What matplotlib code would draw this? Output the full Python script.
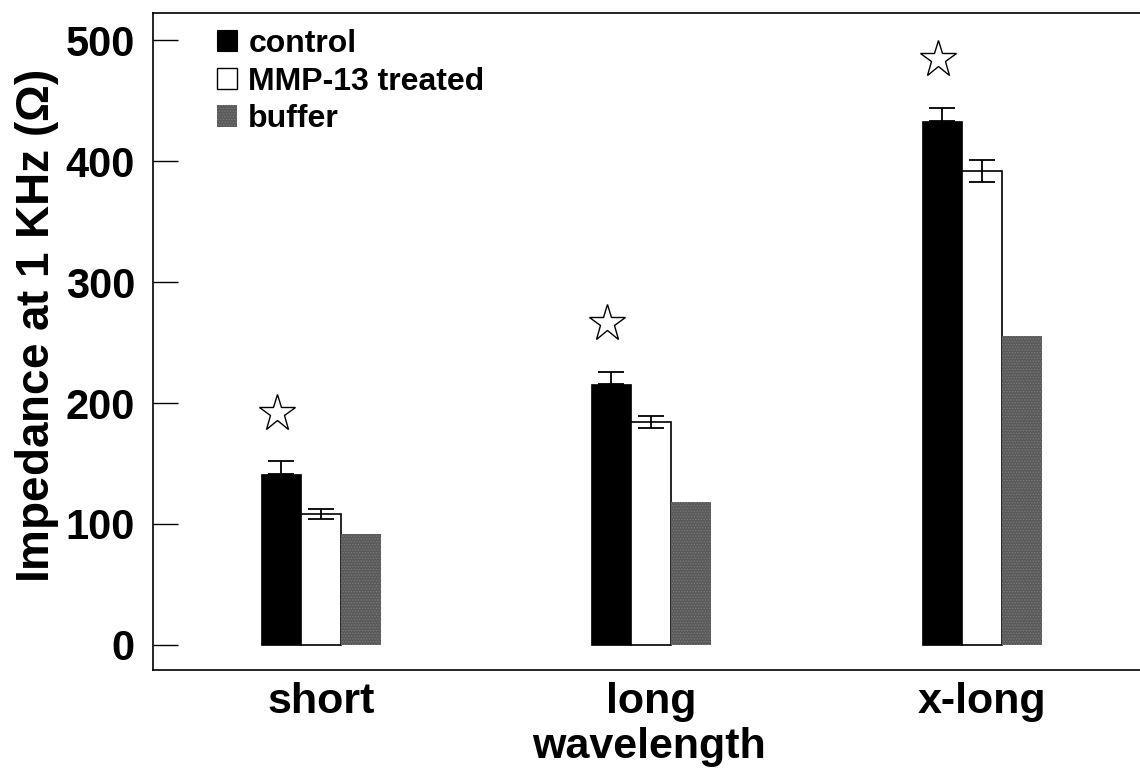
import matplotlib
matplotlib.use("Agg")
import matplotlib.pyplot as plt
from matplotlib.patches import Patch
import numpy as np

# Impedance at 1 kHz for three wavelength groups
categories = ["short", "long", "x-long"]
control = [141, 216, 433]
control_err = [11, 10, 11]
mmp13 = [108, 184, 392]
mmp13_err = [4, 5, 9]
buffer_vals = [92, 118, 255]
series_labels = ["control", "MMP-13 treated", "buffer"]
y_ticks = [0, 100, 200, 300, 400, 500]

plt.rcParams["font.family"] = ["Liberation Sans", "DejaVu Sans"]
plt.rcParams["font.weight"] = "bold"
plt.rcParams["hatch.linewidth"] = 0.6
plt.rcParams["mathtext.fontset"] = "custom"
plt.rcParams["mathtext.rm"] = "Liberation Sans"

fig = plt.figure(figsize=(11.4, 7.7), dpi=100)
ax = fig.add_axes([0.1342, 0.1299, 0.870, 0.853])

x = np.arange(len(categories))
w = 0.121
buffer_color = "#5a5a5a"

ax.bar(x - w, control, w, color="black", edgecolor="black", linewidth=0.5, zorder=2)
ax.bar(x, mmp13, w, color="white", edgecolor="black", linewidth=1.2, zorder=2)
ax.bar(x + w, buffer_vals, w, color=buffer_color, edgecolor="#7a7a7a",
       linewidth=0, hatch="......", zorder=2)

# control: upper error only; MMP-13: symmetric
ax.errorbar(x - w, control, yerr=[np.zeros(len(control)), control_err], fmt="none",
            ecolor="black", elinewidth=1.3, capsize=9.7, capthick=1.3, zorder=3)
ax.errorbar(x, mmp13, yerr=mmp13_err, fmt="none",
            ecolor="black", elinewidth=1.3, capsize=9.7, capthick=1.3, zorder=3)

# significance stars above the control bars
star_y = np.array(control) + np.array(control_err) + 40
ax.plot(x - w - 0.012, star_y, linestyle="none", marker="*", markersize=28,
        markerfacecolor="white", markeredgecolor="black", markeredgewidth=1.0, zorder=4)

ax.set_xlim(-0.508, 2.493)
ax.set_ylim(-20.7, 522.3)
ax.set_yticks(y_ticks)
ax.set_yticklabels([str(v) for v in y_ticks], fontsize=30, fontweight="bold")
ax.set_xticks(x)
ax.set_xticklabels(categories, fontsize=31, fontweight="bold")
ax.tick_params(axis="y", direction="in", length=18, width=1.0, pad=13)
ax.tick_params(axis="x", length=0, pad=9)

for side in ["left", "top", "bottom"]:
    ax.spines[side].set_linewidth(1.2)
ax.spines["right"].set_visible(False)

ax.set_xlabel("wavelength", fontsize=31, fontweight="bold", labelpad=3)
ax.set_ylabel(r"Impedance at 1 KHz ($\Omega$)", fontsize=33, fontweight="bold")
ax.yaxis.set_label_coords(-0.093, 0.523)

handles = [
    Patch(facecolor="black", edgecolor="black", linewidth=0.8),
    Patch(facecolor="white", edgecolor="black", linewidth=1.0),
    Patch(facecolor=buffer_color, edgecolor="#7a7a7a", linewidth=0, hatch="......"),
]
leg = ax.legend(handles, series_labels, loc="upper left",
                bbox_to_anchor=(0.0645, 0.976), frameon=False,
                prop={"size": 23, "weight": "bold"},
                handlelength=0.62, handleheight=0.66, handletextpad=0.36,
                labelspacing=0.24, borderpad=0, borderaxespad=0)

fig.savefig("out.png", dpi=100)
